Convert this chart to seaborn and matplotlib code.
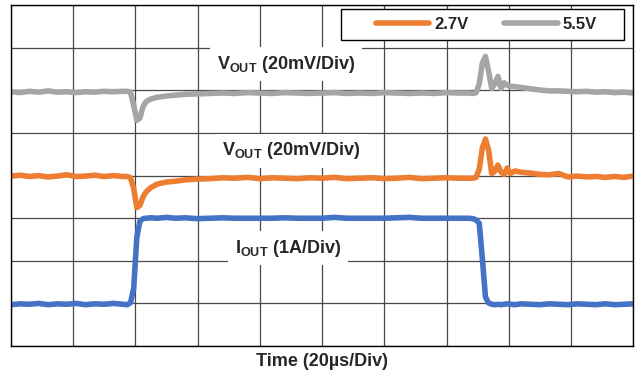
import pandas as pd
import matplotlib.pyplot as plt
import seaborn as sns
from matplotlib.patches import Rectangle

# time axis in microseconds (20us per division), traces in divisions
time_us = [0, 3, 6, 9, 12, 15, 18, 21, 24, 27, 30, 33, 36,
           37.5, 38.5, 39.5, 40.5, 41.5, 42.5, 43.5, 45, 47, 50, 53, 56, 60,
           64, 68, 72, 76, 80, 84, 88, 92, 96, 100, 104, 108, 112, 116, 120,
           124, 128, 132, 136, 140, 144,
           147, 148.5, 149.5, 150.5, 151.5, 152.5, 153.5, 154.5, 155.5, 156.5,
           157.5, 158.5, 159.5, 160.5,
           162, 164, 167, 170, 173, 176, 179, 182, 185, 188, 191, 194, 197, 200]

# IOUT (1A/Div)
iout = [0.97, 0.99, 0.98, 1.00, 0.97, 0.99, 0.98, 1.00, 0.97, 0.99, 0.98, 1.00, 0.98,
        0.97, 1.02, 1.35, 2.55, 2.93, 2.99, 3.00, 3.01, 3.00, 3.02, 3.00, 3.01, 2.99,
        3.00, 3.01, 3.00, 3.00, 3.00, 3.00, 3.01, 3.00, 3.00, 3.00, 3.02, 3.00, 3.00,
        3.00, 3.00, 3.01, 3.02, 3.00, 3.00, 3.00, 3.00,
        3.00, 2.99, 2.96, 2.88, 2.05, 1.15, 1.01, 0.98, 0.97, 0.98, 0.97, 0.98, 0.99, 0.98,
        0.97, 0.99, 0.98, 0.97, 0.99, 0.98, 0.97, 0.99, 0.98, 0.97, 0.99, 0.97, 0.98, 0.99]

# VOUT at 2.7V (20mV/Div)
vout_27 = [3.99, 4.01, 3.98, 4.00, 3.97, 3.99, 4.02, 3.98, 3.99, 4.01, 3.98, 4.00, 3.98,
           3.98, 3.95, 3.70, 3.25, 3.30, 3.50, 3.62, 3.72, 3.80, 3.85, 3.87, 3.90, 3.92,
           3.93, 3.95, 3.94, 3.96, 3.93, 3.95, 3.94, 3.93, 3.95, 3.94, 3.96, 3.93, 3.94,
           3.95, 3.93, 3.94, 3.96, 3.93, 3.94, 3.95, 3.94,
           3.94, 3.94, 3.96, 4.15, 4.65, 4.86, 4.60, 4.05, 4.10, 4.25, 4.08, 4.03, 4.18, 4.05,
           4.11, 4.08, 4.06, 4.03, 4.02, 4.05, 3.97, 3.99, 3.97, 3.98, 3.96, 3.98, 3.96, 3.99]

# VOUT at 5.5V (20mV/Div)
vout_55 = [5.97, 5.95, 5.98, 5.96, 5.99, 5.96, 5.97, 5.95, 5.97, 5.96, 5.98, 5.97, 5.98,
           5.98, 5.96, 5.65, 5.30, 5.35, 5.62, 5.74, 5.80, 5.84, 5.87, 5.89, 5.91, 5.92,
           5.93, 5.94, 5.93, 5.95, 5.94, 5.93, 5.95, 5.94, 5.93, 5.94, 5.95, 5.93, 5.94,
           5.93, 5.95, 5.94, 5.93, 5.94, 5.93, 5.95, 5.94,
           5.94, 5.93, 5.95, 6.15, 6.65, 6.80, 6.45, 6.05, 6.15, 6.33, 6.05, 6.18, 6.12, 6.10,
           6.09, 6.07, 6.04, 6.01, 5.99, 5.99, 5.98, 5.97, 5.98, 5.96, 5.97, 5.95, 5.96, 5.94]

trace_names = ["2.7V", "5.5V"]
trace_colors = ["#ED7D31", "#A5A5A5"]
iout_color = "#4472C4"

df_v = pd.DataFrame({
    "time": time_us * 2,
    "div": vout_27 + vout_55,
    "trace": ["2.7V"] * len(time_us) + ["5.5V"] * len(time_us),
})
df_i = pd.DataFrame({"time": time_us, "div": iout})

sns.set_theme(style="white")
plt.rcParams["font.family"] = ["Liberation Sans", "DejaVu Sans"]
plt.rcParams["mathtext.fontset"] = "custom"
plt.rcParams["mathtext.bf"] = "Liberation Sans:bold"
plt.rcParams["mathtext.rm"] = "Liberation Sans:bold"

fig = plt.figure(figsize=(6.38, 3.76), dpi=100)
ax = fig.add_axes([0.0168, 0.0798, 0.9759, 0.9061])

sns.lineplot(data=df_v, x="time", y="div", hue="trace", hue_order=trace_names,
             palette=trace_colors, linewidth=4.0, estimator=None,
             solid_capstyle="round", ax=ax, legend=False)
sns.lineplot(data=df_i, x="time", y="div", color=iout_color, linewidth=4.0,
             estimator=None, solid_capstyle="round", ax=ax, legend=False)

ax.set_xlim(0, 200)
ax.set_ylim(0, 8)
ax.set_xticks(range(0, 201, 20))
ax.set_yticks(range(0, 9))
ax.tick_params(length=0, labelbottom=False, labelleft=False)
ax.set_axisbelow(True)
ax.grid(True, color="#484848", linewidth=0.9)
for sp in ax.spines.values():
    sp.set_color("black")
    sp.set_linewidth(1.0)
ax.set_ylabel("")
ax.set_xlabel("Time (20µs/Div)", fontsize=13, fontweight="bold", labelpad=5)

# trace labels
box = dict(facecolor="white", edgecolor="none", pad=5)
ax.text(88.4, 6.62, r"$\mathbf{V_{OUT}}$ (20mV/Div)", fontsize=13, fontweight="bold",
        ha="center", va="center", bbox=box, zorder=3)
ax.text(90.0, 4.58, r"$\mathbf{V_{OUT}}$ (20mV/Div)", fontsize=13, fontweight="bold",
        ha="center", va="center", bbox=box, zorder=3)
ax.text(89.0, 2.30, r"$\mathbf{I_{OUT}}$ (1A/Div)", fontsize=13, fontweight="bold",
        ha="center", va="center", bbox=box, zorder=3)

# legend
ax.add_patch(Rectangle((0.531, 0.898), 0.454, 0.090, transform=ax.transAxes,
                       facecolor="white", edgecolor="black", linewidth=1.0, zorder=4))
leg = ax.legend(ax.lines[:2], trace_names, loc="center", bbox_to_anchor=(0.764, 0.943),
                ncol=2, frameon=False, handlelength=3.2, handletextpad=0.3,
                columnspacing=2.15, prop={"weight": "bold", "size": 12})
leg.set_zorder(5)

plt.savefig("out.png", dpi=100)
